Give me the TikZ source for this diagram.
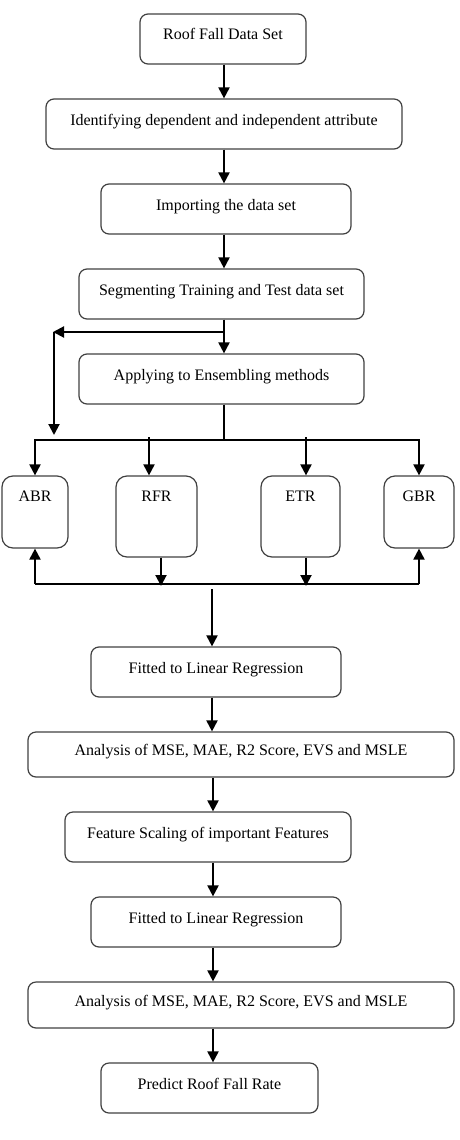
\documentclass[tikz,border=0pt]{standalone}
\usepackage{fontspec}
\setmainfont{Liberation Serif}
\usetikzlibrary{arrows.meta}

\begin{document}
\begin{tikzpicture}[x=1pt, y=-1pt,
        font=\fontsize{16}{19}\selectfont,
        blk/.style={rectangle, draw=black!75, line width=1.2pt, rounded corners=8pt,
                  minimum height=50pt, text height=9pt, text depth=7pt, inner sep=0pt},
        alg/.style={rectangle, draw=black!75, line width=1.2pt, rounded corners=11pt,
                  text height=11pt, inner sep=0pt},
        ln/.style={line width=2pt},
        arr/.style={ln, -{Triangle[length=11pt,width=11pt]}}]
      \useasboundingbox (0,0) rectangle (459,1140);
      % preparing the data
      \node[blk, minimum width=166pt] (data) at (223,39) {Roof Fall Data Set};
      \node[blk, minimum width=356pt] (attr) at (224,124) {Identifying dependent and independent attribute};
      \node[blk, minimum width=250pt] (imp) at (226,209) {Importing the data set};
      \node[blk, minimum width=285pt] (seg) at (221.5,294) {Segmenting Training and Test data set};
      \node[blk, minimum width=285pt] (ens) at (221.5,379) {Applying to Ensembling methods};
      % ensemble regressors
      \node[alg, minimum width=66pt, minimum height=72pt, text depth=33pt] (abr) at (35,512) {ABR};
      \node[alg, minimum width=81pt, minimum height=81pt, text depth=42pt] (rfr) at (156.5,516.5) {RFR};
      \node[alg, minimum width=79pt, minimum height=81pt, text depth=42pt] (etr) at (300.5,516.5) {ETR};
      \node[alg, minimum width=70pt, minimum height=72pt, text depth=33pt] (gbr) at (419,512) {GBR};
      % regression and results
      \node[blk, minimum width=250pt] (fit1) at (216,672) {Fitted to Linear Regression};
      \node[blk, minimum width=426pt, minimum height=45pt] (ana1) at (241,754.5) {Analysis of MSE, MAE, R2 Score, EVS and MSLE};
      \node[blk, minimum width=286pt] (feat) at (208,837) {Feature Scaling of important Features};
      \node[blk, minimum width=250pt] (fit2) at (216,922) {Fitted to Linear Regression};
      \node[blk, minimum width=426pt, minimum height=46pt] (ana2) at (241,1005) {Analysis of MSE, MAE, R2 Score, EVS and MSLE};
      \node[blk, minimum width=217pt] (pred) at (209.5,1088) {Predict Roof Fall Rate};

      \coordinate (uc) at (224,0);
      \coordinate (lc) at (213,0);
      \coordinate (split) at (224,332);
      \coordinate (lft) at (53,332);
      \coordinate (lftend) at (54,435);
      \coordinate (bt) at (0,440);
      \coordinate (bb) at (0,584);
      \coordinate (out) at (212,589);

      \draw[arr] (data.south -| uc) -- (attr.north -| uc);
      \draw[arr] (attr.south -| uc) -- (imp.north -| uc);
      \draw[arr] (imp.south -| uc) -- (seg.north -| uc);
      \draw[arr] (seg.south -| uc) -- (ens.north -| uc);
      \draw[arr] (split) -- (lft);
      \draw[arr] (lft -| lftend) -- (lftend);
      \draw[ln] (ens.south -| uc) -- (uc |- bt);
      % top bus
      \draw[arr] (gbr.north |- bt) -- (abr.north |- bt) -- (abr.north);
      \draw[arr] (abr.north |- bt) -| (gbr.north);
      \draw[arr] ([xshift=-7.5pt]rfr.north |- 0,437) -- ([xshift=-7.5pt]rfr.north);
      \draw[arr] ([xshift=5.5pt]etr.north |- 0,437) -- ([xshift=5.5pt]etr.north);
      % bottom bus
      \draw[ln] (abr.south |- bb) -- (gbr.south |- bb);
      \draw[arr] (abr.south |- bb) -- (abr.south);
      \draw[arr] (gbr.south |- bb) -- (gbr.south);
      \draw[arr] ([xshift=4.5pt]rfr.south) -- ([xshift=4.5pt]rfr.south |- 0,586);
      \draw[arr] ([xshift=5.5pt]etr.south) -- ([xshift=5.5pt]etr.south |- 0,586);
      \draw[arr] (out) -- (fit1.north -| out);

      \draw[arr] (fit1.south -| out) -- (ana1.north -| out);
      \draw[arr] (ana1.south -| lc) -- (feat.north -| lc);
      \draw[arr] (feat.south -| lc) -- (fit2.north -| lc);
      \draw[arr] (fit2.south -| lc) -- (ana2.north -| lc);
      \draw[arr] (ana2.south -| lc) -- (pred.north -| lc);
    \end{tikzpicture}
\end{document}
